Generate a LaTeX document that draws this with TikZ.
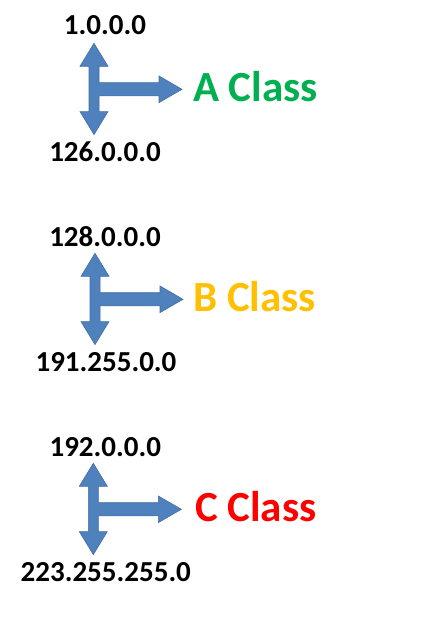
\documentclass[tikz,border=0pt]{standalone}
\usepackage{fontspec}
\setmainfont{Carlito}
\usepackage{tikz}
\usetikzlibrary{calc}
\definecolor{arrowblue}{RGB}{79, 129, 189}
\definecolor{arrowedge}{RGB}{65, 110, 165}
\definecolor{classgreen}{RGB}{0, 176, 80}
\definecolor{classgold}{RGB}{255, 192, 0}
\definecolor{classred}{RGB}{255, 0, 0}
\newcommand{\classarrow}[2]{
	% T-shaped block arrow: up, down and right
	\coordinate (#1) at (#2);
	\draw[tarrow] ($(#1)+(0,-47.4)$) -- ++(14,23) -- ++(-9,0) -- ++(0,16.4) -- ++(60,0) -- ++(0,-6.7)
		-- ++(23,13.3) -- ++(-23,13.3) -- ++(0,-6.7) -- ++(-60,0) -- ++(0,15.7) -- ++(9,0) -- ++(-14,23)
		-- ++(-14,-23) -- ++(9,0) -- ++(0,-15.7) -- ++(0,-13.2) -- ++(0,-16.4) -- ++(-9,0) -- cycle;
}

\begin{document}
\begin{tikzpicture}[x=1pt, y=-1pt,
		tarrow/.style={fill=arrowblue, draw=arrowedge, line width=0.6pt, line join=miter},
		addr/.style={font=\fontsize{29}{31}\selectfont\bfseries, text=black, anchor=base, inner sep=0pt},
		cls/.style={font=\fontsize{43}{46}\selectfont\bfseries, anchor=base west, inner sep=0pt},
		]
		\useasboundingbox (0,0) rectangle (436,617);
		
		\classarrow{a}{94,90.7}
		\classarrow{b}{95,300.7}
		\classarrow{c}{93.3,510.7}
		
		\node[addr] (a-top) at ($(a)+(11,-55.7)$) {1.0.0.0};
		\node[addr] (a-bot) at ($(a)+(11,71)$) {126.0.0.0};
		\node[cls, text=classgreen] (a-cls) at ($(a)+(99,11)$) {A Class};
		
		\node[addr] (b-top) at ($(b)+(10,-54.7)$) {128.0.0.0};
		\node[addr] (b-bot) at ($(b)+(11,71)$) {191.255.0.0};
		\node[cls, text=classgold] (b-cls) at ($(b)+(98,11)$) {B Class};
		
		\node[addr] (c-top) at ($(c)+(12,-54.7)$) {192.0.0.0};
		\node[addr] (c-bot) at ($(c)+(12.5,71)$) {223.255.255.0};
		\node[cls, text=classred] (c-cls) at ($(c)+(101.7,11)$) {C Class};
		
\end{tikzpicture}
\end{document}
